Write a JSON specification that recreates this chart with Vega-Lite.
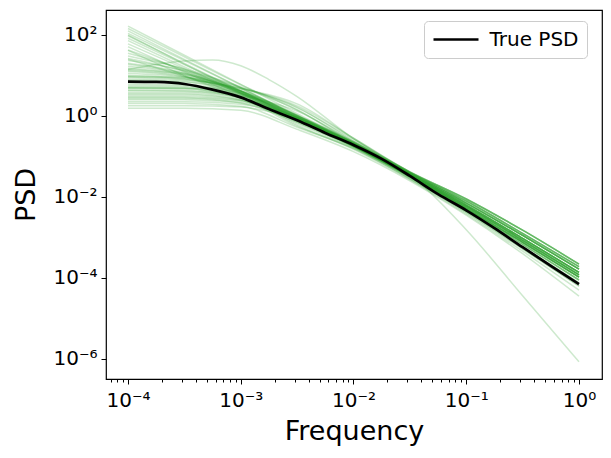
{
"$schema": "https://vega.github.io/schema/vega-lite/v6.json",
"width": 496, "height": 369,
"autosize": {"type": "none"},
"padding": {"left": 106, "top": 10, "right": 9, "bottom": 79},
"background": "white",
"config": {
  "view": {"stroke": "black", "strokeWidth": 1.2},
  "font": "DejaVu Sans",
  "axis": {"grid": false, "domain": false, "tickColor": "black", "labelColor": "black", "titleColor": "black", "labelFont": "DejaVu Sans", "titleFont": "DejaVu Sans", "labelFontSize": 20, "titleFontSize": 27, "titleFontWeight": "normal", "tickWidth": 1, "labelOverlap": false, "labelBound": false, "labelFlush": false}
},
"datasets": {
"samples": [
{"s":1,"f":1e-4,"p":166},{"s":1,"f":3.162e-4,"p":31.6},{"s":1,"f":1e-3,"p":6.03},{"s":1,"f":3.162e-3,"p":1.148},{"s":1,"f":1e-2,"p":0.219},{"s":1,"f":3.162e-2,"p":0.038},{"s":1,"f":0.1,"p":0.00708},{"s":1,"f":0.3162,"p":0.00112},{"s":1,"f":1,"p":1.66e-4},
{"s":2,"f":1e-4,"p":144.5},{"s":2,"f":3.162e-4,"p":28.8},{"s":2,"f":1e-3,"p":5.89},{"s":2,"f":3.162e-3,"p":1.41},{"s":2,"f":1e-2,"p":0.234},{"s":2,"f":3.162e-2,"p":0.0417},{"s":2,"f":0.1,"p":0.00891},{"s":2,"f":0.3162,"p":0.00151},{"s":2,"f":1,"p":2.19e-4},
{"s":3,"f":1e-4,"p":125.9},{"s":3,"f":3.162e-4,"p":25.1},{"s":3,"f":1e-3,"p":4.9},{"s":3,"f":3.162e-3,"p":0.977},{"s":3,"f":1e-2,"p":0.195},{"s":3,"f":3.162e-2,"p":0.0347},{"s":3,"f":0.1,"p":0.00575},{"s":3,"f":0.3162,"p":8.51e-4},{"s":3,"f":1,"p":1.2e-4},
{"s":4,"f":1e-4,"p":109.6},{"s":4,"f":3.162e-4,"p":23.4},{"s":4,"f":1e-3,"p":5.01},{"s":4,"f":3.162e-3,"p":1.047},{"s":4,"f":1e-2,"p":0.224},{"s":4,"f":3.162e-2,"p":0.0398},{"s":4,"f":0.1,"p":0.00794},{"s":4,"f":0.3162,"p":0.00126},{"s":4,"f":1,"p":1.91e-4},
{"s":5,"f":1e-4,"p":95.5},{"s":5,"f":3.162e-4,"p":19.95},{"s":5,"f":1e-3,"p":4.17},{"s":5,"f":3.162e-3,"p":0.851},{"s":5,"f":1e-2,"p":0.178},{"s":5,"f":3.162e-2,"p":0.0316},{"s":5,"f":0.1,"p":0.0049},{"s":5,"f":0.3162,"p":6.76e-4},{"s":5,"f":1,"p":8.91e-5},
{"s":6,"f":1e-4,"p":83.2},{"s":6,"f":3.162e-4,"p":18.6},{"s":6,"f":1e-3,"p":4.17},{"s":6,"f":3.162e-3,"p":0.912},{"s":6,"f":1e-2,"p":0.204},{"s":6,"f":3.162e-2,"p":0.0363},{"s":6,"f":0.1,"p":0.00631},{"s":6,"f":0.3162,"p":9.55e-4},{"s":6,"f":1,"p":1.38e-4},
{"s":7,"f":1e-4,"p":72.4},{"s":7,"f":3.162e-4,"p":16.2},{"s":7,"f":1e-3,"p":3.72},{"s":7,"f":3.162e-3,"p":0.832},{"s":7,"f":1e-2,"p":0.186},{"s":7,"f":3.162e-2,"p":0.0331},{"s":7,"f":0.1,"p":0.00525},{"s":7,"f":0.3162,"p":7.59e-4},{"s":7,"f":1,"p":1.05e-4},
{"s":8,"f":1e-4,"p":60.3},{"s":8,"f":3.162e-4,"p":14.8},{"s":8,"f":1e-3,"p":3.72},{"s":8,"f":3.162e-3,"p":0.912},{"s":8,"f":1e-2,"p":0.224},{"s":8,"f":3.162e-2,"p":0.0398},{"s":8,"f":0.1,"p":0.00794},{"s":8,"f":0.3162,"p":0.00126},{"s":8,"f":1,"p":1.91e-4},
{"s":9,"f":1e-4,"p":51.3},{"s":9,"f":3.162e-4,"p":12.3},{"s":9,"f":1e-3,"p":2.95},{"s":9,"f":3.162e-3,"p":0.661},{"s":9,"f":1e-2,"p":0.17},{"s":9,"f":3.162e-2,"p":0.0302},{"s":9,"f":0.1,"p":0.00447},{"s":9,"f":0.3162,"p":5.89e-4},{"s":9,"f":1,"p":7.59e-5},
{"s":10,"f":1e-4,"p":42.7},{"s":10,"f":3.162e-4,"p":13.2},{"s":10,"f":1e-3,"p":3.55},{"s":10,"f":3.162e-3,"p":0.871},{"s":10,"f":1e-2,"p":0.214},{"s":10,"f":3.162e-2,"p":0.038},{"s":10,"f":0.1,"p":0.00708},{"s":10,"f":0.3162,"p":0.00112},{"s":10,"f":1,"p":1.66e-4},
{"s":11,"f":1e-4,"p":35.5},{"s":11,"f":3.162e-4,"p":14.1},{"s":11,"f":1e-3,"p":4.17},{"s":11,"f":3.162e-3,"p":0.933},{"s":11,"f":1e-2,"p":0.195},{"s":11,"f":3.162e-2,"p":0.0347},{"s":11,"f":0.1,"p":0.00575},{"s":11,"f":0.3162,"p":8.51e-4},{"s":11,"f":1,"p":1.2e-4},
{"s":12,"f":1e-4,"p":30.2},{"s":12,"f":3.162e-4,"p":14.5},{"s":12,"f":1e-3,"p":5.25},{"s":12,"f":3.162e-3,"p":1.585},{"s":12,"f":1e-2,"p":0.263},{"s":12,"f":3.162e-2,"p":0.0417},{"s":12,"f":0.1,"p":0.00891},{"s":12,"f":0.3162,"p":0.00151},{"s":12,"f":1,"p":2.19e-4},
{"s":13,"f":1e-4,"p":26.3},{"s":13,"f":3.162e-4,"p":12.6},{"s":13,"f":1e-3,"p":3.98},{"s":13,"f":3.162e-3,"p":0.891},{"s":13,"f":1e-2,"p":0.186},{"s":13,"f":3.162e-2,"p":0.0331},{"s":13,"f":0.1,"p":0.00525},{"s":13,"f":0.3162,"p":7.59e-4},{"s":13,"f":1,"p":1.05e-4},
{"s":14,"f":1e-4,"p":23.4},{"s":14,"f":3.162e-4,"p":13.2},{"s":14,"f":1e-3,"p":5.01},{"s":14,"f":3.162e-3,"p":1.41},{"s":14,"f":1e-2,"p":0.204},{"s":14,"f":3.162e-2,"p":0.0363},{"s":14,"f":0.1,"p":0.00631},{"s":14,"f":0.3162,"p":9.55e-4},{"s":14,"f":1,"p":1.38e-4},
{"s":15,"f":1e-4,"p":19.95},{"s":15,"f":3.162e-4,"p":11.5},{"s":15,"f":1e-3,"p":3.55},{"s":15,"f":3.162e-3,"p":0.603},{"s":15,"f":1e-2,"p":0.158},{"s":15,"f":3.162e-2,"p":0.0282},{"s":15,"f":0.1,"p":0.00417},{"s":15,"f":0.3162,"p":5.25e-4},{"s":15,"f":1,"p":6.31e-5},
{"s":16,"f":1e-4,"p":17.0},{"s":16,"f":3.162e-4,"p":11.2},{"s":16,"f":1e-3,"p":5.01},{"s":16,"f":3.162e-3,"p":1.66},{"s":16,"f":1e-2,"p":0.24},{"s":16,"f":3.162e-2,"p":0.0398},{"s":16,"f":0.1,"p":0.00794},{"s":16,"f":0.3162,"p":0.00126},{"s":16,"f":1,"p":1.91e-4},
{"s":17,"f":1e-4,"p":15.1},{"s":17,"f":3.162e-4,"p":10.5},{"s":17,"f":1e-3,"p":4.17},{"s":17,"f":3.162e-3,"p":1.0},{"s":17,"f":1e-2,"p":0.214},{"s":17,"f":3.162e-2,"p":0.038},{"s":17,"f":0.1,"p":0.00708},{"s":17,"f":0.3162,"p":0.00112},{"s":17,"f":1,"p":1.66e-4},
{"s":18,"f":1e-4,"p":13.2},{"s":18,"f":3.162e-4,"p":9.77},{"s":18,"f":1e-3,"p":3.8},{"s":18,"f":3.162e-3,"p":0.912},{"s":18,"f":1e-2,"p":0.195},{"s":18,"f":3.162e-2,"p":0.0347},{"s":18,"f":0.1,"p":0.00575},{"s":18,"f":0.3162,"p":8.51e-4},{"s":18,"f":1,"p":1.2e-4},
{"s":19,"f":1e-4,"p":11.2},{"s":19,"f":3.162e-4,"p":9.12},{"s":19,"f":1e-3,"p":4.17},{"s":19,"f":3.162e-3,"p":1.023},{"s":19,"f":1e-2,"p":0.204},{"s":19,"f":3.162e-2,"p":0.0363},{"s":19,"f":0.1,"p":0.00631},{"s":19,"f":0.3162,"p":9.55e-4},{"s":19,"f":1,"p":1.38e-4},
{"s":20,"f":1e-4,"p":9.33},{"s":20,"f":3.162e-4,"p":8.32},{"s":20,"f":1e-3,"p":4.17},{"s":20,"f":3.162e-3,"p":1.047},{"s":20,"f":1e-2,"p":0.178},{"s":20,"f":3.162e-2,"p":0.0316},{"s":20,"f":0.1,"p":0.0049},{"s":20,"f":0.3162,"p":6.76e-4},{"s":20,"f":1,"p":8.91e-5},
{"s":21,"f":1e-4,"p":8.13},{"s":21,"f":3.162e-4,"p":7.59},{"s":21,"f":1e-3,"p":4.79},{"s":21,"f":3.162e-3,"p":1.778},{"s":21,"f":1e-2,"p":0.282},{"s":21,"f":3.162e-2,"p":0.0417},{"s":21,"f":0.1,"p":0.00891},{"s":21,"f":0.3162,"p":0.00151},{"s":21,"f":1,"p":2.19e-4},
{"s":22,"f":1e-4,"p":7.24},{"s":22,"f":3.162e-4,"p":6.76},{"s":22,"f":1e-3,"p":3.63},{"s":22,"f":3.162e-3,"p":0.955},{"s":22,"f":1e-2,"p":0.186},{"s":22,"f":3.162e-2,"p":0.0331},{"s":22,"f":0.1,"p":0.00525},{"s":22,"f":0.3162,"p":7.59e-4},{"s":22,"f":1,"p":1.05e-4},
{"s":23,"f":1e-4,"p":6.17},{"s":23,"f":3.162e-4,"p":5.89},{"s":23,"f":1e-3,"p":3.55},{"s":23,"f":3.162e-3,"p":1.047},{"s":23,"f":1e-2,"p":0.214},{"s":23,"f":3.162e-2,"p":0.038},{"s":23,"f":0.1,"p":0.00708},{"s":23,"f":0.3162,"p":0.00112},{"s":23,"f":1,"p":1.66e-4},
{"s":24,"f":1e-4,"p":5.25},{"s":24,"f":3.162e-4,"p":5.13},{"s":24,"f":1e-3,"p":3.16},{"s":24,"f":3.162e-3,"p":0.708},{"s":24,"f":1e-2,"p":0.17},{"s":24,"f":3.162e-2,"p":0.0302},{"s":24,"f":0.1,"p":0.00447},{"s":24,"f":0.3162,"p":5.89e-4},{"s":24,"f":1,"p":7.59e-5},
{"s":25,"f":1e-4,"p":4.79},{"s":25,"f":3.162e-4,"p":4.68},{"s":25,"f":1e-3,"p":3.16},{"s":25,"f":3.162e-3,"p":1.318},{"s":25,"f":1e-2,"p":0.224},{"s":25,"f":3.162e-2,"p":0.0398},{"s":25,"f":0.1,"p":0.00794},{"s":25,"f":0.3162,"p":0.00126},{"s":25,"f":1,"p":1.91e-4},
{"s":26,"f":1e-4,"p":4.37},{"s":26,"f":3.162e-4,"p":4.27},{"s":26,"f":1e-3,"p":2.88},{"s":26,"f":3.162e-3,"p":0.891},{"s":26,"f":1e-2,"p":0.195},{"s":26,"f":3.162e-2,"p":0.0347},{"s":26,"f":0.1,"p":0.00575},{"s":26,"f":0.3162,"p":8.51e-4},{"s":26,"f":1,"p":1.2e-4},
{"s":27,"f":1e-4,"p":3.8},{"s":27,"f":3.162e-4,"p":3.8},{"s":27,"f":1e-3,"p":2.75},{"s":27,"f":3.162e-3,"p":0.933},{"s":27,"f":1e-2,"p":0.204},{"s":27,"f":3.162e-2,"p":0.0363},{"s":27,"f":0.1,"p":0.00631},{"s":27,"f":0.3162,"p":9.55e-4},{"s":27,"f":1,"p":1.38e-4},
{"s":28,"f":1e-4,"p":3.55},{"s":28,"f":3.162e-4,"p":3.55},{"s":28,"f":1e-3,"p":2.51},{"s":28,"f":3.162e-3,"p":0.562},{"s":28,"f":1e-2,"p":0.151},{"s":28,"f":3.162e-2,"p":0.0269},{"s":28,"f":0.1,"p":0.0038},{"s":28,"f":0.3162,"p":4.57e-4},{"s":28,"f":1,"p":5.01e-5},
{"s":29,"f":1e-4,"p":3.31},{"s":29,"f":3.162e-4,"p":3.31},{"s":29,"f":1e-3,"p":2.51},{"s":29,"f":3.162e-3,"p":0.871},{"s":29,"f":1e-2,"p":0.186},{"s":29,"f":3.162e-2,"p":0.0331},{"s":29,"f":0.1,"p":0.00525},{"s":29,"f":0.3162,"p":7.59e-4},{"s":29,"f":1,"p":1.05e-4},
{"s":30,"f":1e-4,"p":2.88},{"s":30,"f":3.162e-4,"p":2.88},{"s":30,"f":1e-3,"p":2.34},{"s":30,"f":3.162e-3,"p":0.912},{"s":30,"f":1e-2,"p":0.214},{"s":30,"f":3.162e-2,"p":0.038},{"s":30,"f":0.1,"p":0.00708},{"s":30,"f":0.3162,"p":0.00112},{"s":30,"f":1,"p":1.66e-4},
{"s":31,"f":1e-4,"p":2.69},{"s":31,"f":3.162e-4,"p":2.69},{"s":31,"f":1e-3,"p":2.09},{"s":31,"f":3.162e-3,"p":0.708},{"s":31,"f":1e-2,"p":0.178},{"s":31,"f":3.162e-2,"p":0.0316},{"s":31,"f":0.1,"p":0.0049},{"s":31,"f":0.3162,"p":6.76e-4},{"s":31,"f":1,"p":8.91e-5},
{"s":32,"f":1e-4,"p":2.51},{"s":32,"f":3.162e-4,"p":2.51},{"s":32,"f":1e-3,"p":2.14},{"s":32,"f":3.162e-3,"p":0.955},{"s":32,"f":1e-2,"p":0.234},{"s":32,"f":3.162e-2,"p":0.0417},{"s":32,"f":0.1,"p":0.00891},{"s":32,"f":0.3162,"p":0.00151},{"s":32,"f":1,"p":2.19e-4},
{"s":33,"f":1e-4,"p":2.24},{"s":33,"f":3.162e-4,"p":2.24},{"s":33,"f":1e-3,"p":1.95},{"s":33,"f":3.162e-3,"p":0.871},{"s":33,"f":1e-2,"p":0.204},{"s":33,"f":3.162e-2,"p":0.0363},{"s":33,"f":0.1,"p":0.00631},{"s":33,"f":0.3162,"p":9.55e-4},{"s":33,"f":1,"p":1.38e-4},
{"s":34,"f":1e-4,"p":2.04},{"s":34,"f":3.162e-4,"p":2.04},{"s":34,"f":1e-3,"p":1.74},{"s":34,"f":3.162e-3,"p":0.525},{"s":34,"f":1e-2,"p":0.158},{"s":34,"f":3.162e-2,"p":0.0282},{"s":34,"f":0.1,"p":0.00417},{"s":34,"f":0.3162,"p":5.25e-4},{"s":34,"f":1,"p":6.31e-5},
{"s":35,"f":1e-4,"p":1.78},{"s":35,"f":3.162e-4,"p":1.78},{"s":35,"f":1e-3,"p":1.66},{"s":35,"f":3.162e-3,"p":0.794},{"s":35,"f":1e-2,"p":0.195},{"s":35,"f":3.162e-2,"p":0.0347},{"s":35,"f":0.1,"p":0.00575},{"s":35,"f":0.3162,"p":8.51e-4},{"s":35,"f":1,"p":1.2e-4},
{"s":36,"f":1e-4,"p":1.55},{"s":36,"f":3.162e-4,"p":1.55},{"s":36,"f":1e-3,"p":1.38},{"s":36,"f":3.162e-3,"p":0.468},{"s":36,"f":1e-2,"p":0.132},{"s":36,"f":3.162e-2,"p":0.0251},{"s":36,"f":0.1,"p":0.00355},{"s":36,"f":0.3162,"p":3.98e-4},{"s":36,"f":1,"p":3.55e-5},
{"s":37,"f":1e-4,"p":10.0},{"s":37,"f":3.162e-4,"p":8.51},{"s":37,"f":1e-3,"p":3.98},{"s":37,"f":3.162e-3,"p":1.0},{"s":37,"f":1e-2,"p":0.214},{"s":37,"f":3.162e-2,"p":0.038},{"s":37,"f":0.1,"p":0.00708},{"s":37,"f":0.3162,"p":0.00112},{"s":37,"f":1,"p":1.66e-4},
{"s":38,"f":1e-4,"p":14.1},{"s":38,"f":3.162e-4,"p":10.5},{"s":38,"f":1e-3,"p":4.17},{"s":38,"f":3.162e-3,"p":0.891},{"s":38,"f":1e-2,"p":0.186},{"s":38,"f":3.162e-2,"p":0.0331},{"s":38,"f":0.1,"p":0.00525},{"s":38,"f":0.3162,"p":7.59e-4},{"s":38,"f":1,"p":1.05e-4},
{"s":39,"f":1e-4,"p":8.91},{"s":39,"f":3.162e-4,"p":7.94},{"s":39,"f":1e-3,"p":4.79},{"s":39,"f":3.162e-3,"p":1.995},{"s":39,"f":1e-2,"p":0.282},{"s":39,"f":3.162e-2,"p":0.0398},{"s":39,"f":0.1,"p":0.00794},{"s":39,"f":0.3162,"p":0.00126},{"s":39,"f":1,"p":1.91e-4},
{"s":40,"f":1e-4,"p":5.62},{"s":40,"f":3.162e-4,"p":5.5},{"s":40,"f":1e-3,"p":3.55},{"s":40,"f":3.162e-3,"p":1.0},{"s":40,"f":1e-2,"p":0.204},{"s":40,"f":3.162e-2,"p":0.0363},{"s":40,"f":0.1,"p":0.00631},{"s":40,"f":0.3162,"p":9.55e-4},{"s":40,"f":1,"p":1.38e-4},
{"s":41,"f":1e-4,"p":14.1},{"s":41,"f":3.162e-4,"p":22.9},{"s":41,"f":5.623e-4,"p":24.0},{"s":41,"f":1e-3,"p":17.4},{"s":41,"f":1.778e-3,"p":7.94},{"s":41,"f":3.162e-3,"p":3.02},{"s":41,"f":1e-2,"p":0.275},{"s":41,"f":3.162e-2,"p":0.0417},{"s":41,"f":0.1,"p":0.00891},{"s":41,"f":0.3162,"p":0.00151},{"s":41,"f":1,"p":2.19e-4},
{"s":42,"f":1e-4,"p":5.01},{"s":42,"f":3.162e-4,"p":4.79},{"s":42,"f":1e-3,"p":2.82},{"s":42,"f":3.162e-3,"p":0.794},{"s":42,"f":1e-2,"p":0.191},{"s":42,"f":3.162e-2,"p":0.0355},{"s":42,"f":0.1,"p":0.00155},{"s":42,"f":0.3162,"p":3.63e-5},{"s":42,"f":1,"p":8.51e-7},
{"s":43,"f":1e-4,"p":19.05},{"s":43,"f":3.162e-4,"p":11.2},{"s":43,"f":1e-3,"p":3.98},{"s":43,"f":3.162e-3,"p":0.832},{"s":43,"f":1e-2,"p":0.191},{"s":43,"f":3.162e-2,"p":0.0347},{"s":43,"f":0.1,"p":0.00575},{"s":43,"f":0.3162,"p":8.51e-4},{"s":43,"f":1,"p":1.2e-4},
{"s":44,"f":1e-4,"p":7.59},{"s":44,"f":3.162e-4,"p":7.08},{"s":44,"f":1e-3,"p":3.8},{"s":44,"f":3.162e-3,"p":0.794},{"s":44,"f":1e-2,"p":0.182},{"s":44,"f":3.162e-2,"p":0.0331},{"s":44,"f":0.1,"p":0.00525},{"s":44,"f":0.3162,"p":7.59e-4},{"s":44,"f":1,"p":1.05e-4},
{"s":45,"f":1e-4,"p":41.7},{"s":45,"f":3.162e-4,"p":10.0},{"s":45,"f":1e-3,"p":2.82},{"s":45,"f":3.162e-3,"p":0.759},{"s":45,"f":1e-2,"p":0.191},{"s":45,"f":3.162e-2,"p":0.0363},{"s":45,"f":0.1,"p":0.00631},{"s":45,"f":0.3162,"p":9.55e-4},{"s":45,"f":1,"p":1.38e-4},
{"s":46,"f":1e-4,"p":4.17},{"s":46,"f":3.162e-4,"p":4.07},{"s":46,"f":1e-3,"p":2.82},{"s":46,"f":3.162e-3,"p":0.832},{"s":46,"f":1e-2,"p":0.2},{"s":46,"f":3.162e-2,"p":0.038},{"s":46,"f":0.1,"p":0.00708},{"s":46,"f":0.3162,"p":0.00112},{"s":46,"f":1,"p":1.66e-4},
{"s":47,"f":1e-4,"p":25.1},{"s":47,"f":3.162e-4,"p":9.55},{"s":47,"f":1e-3,"p":3.31},{"s":47,"f":3.162e-3,"p":0.794},{"s":47,"f":1e-2,"p":0.186},{"s":47,"f":3.162e-2,"p":0.0347},{"s":47,"f":0.1,"p":0.00575},{"s":47,"f":0.3162,"p":8.51e-4},{"s":47,"f":1,"p":1.2e-4},
{"s":48,"f":1e-4,"p":9.55},{"s":48,"f":3.162e-4,"p":8.91},{"s":48,"f":1e-3,"p":4.57},{"s":48,"f":3.162e-3,"p":0.955},{"s":48,"f":1e-2,"p":0.2},{"s":48,"f":3.162e-2,"p":0.0363},{"s":48,"f":0.1,"p":0.00631},{"s":48,"f":0.3162,"p":9.55e-4},{"s":48,"f":1,"p":1.38e-4},
{"s":49,"f":1e-4,"p":100},{"s":49,"f":3.162e-4,"p":19.05},{"s":49,"f":1e-3,"p":3.8},{"s":49,"f":3.162e-3,"p":0.794},{"s":49,"f":1e-2,"p":0.178},{"s":49,"f":3.162e-2,"p":0.0331},{"s":49,"f":0.1,"p":0.00525},{"s":49,"f":0.3162,"p":7.59e-4},{"s":49,"f":1,"p":1.05e-4},
{"s":50,"f":1e-4,"p":5.01},{"s":50,"f":3.162e-4,"p":4.9},{"s":50,"f":1e-3,"p":3.31},{"s":50,"f":3.162e-3,"p":0.891},{"s":50,"f":1e-2,"p":0.191},{"s":50,"f":3.162e-2,"p":0.0347},{"s":50,"f":0.1,"p":0.00575},{"s":50,"f":0.3162,"p":8.51e-4},{"s":50,"f":1,"p":1.2e-4},
{"s":51,"f":1e-4,"p":12.6},{"s":51,"f":3.162e-4,"p":9.33},{"s":51,"f":1e-3,"p":3.55},{"s":51,"f":3.162e-3,"p":0.759},{"s":51,"f":1e-2,"p":0.174},{"s":51,"f":3.162e-2,"p":0.0316},{"s":51,"f":0.1,"p":0.0049},{"s":51,"f":0.3162,"p":6.76e-4},{"s":51,"f":1,"p":8.91e-5},
{"s":52,"f":1e-4,"p":3.02},{"s":52,"f":3.162e-4,"p":3.02},{"s":52,"f":1e-3,"p":2.4},{"s":52,"f":3.162e-3,"p":0.759},{"s":52,"f":1e-2,"p":0.182},{"s":52,"f":3.162e-2,"p":0.0331},{"s":52,"f":0.1,"p":0.00525},{"s":52,"f":0.3162,"p":7.59e-4},{"s":52,"f":1,"p":1.05e-4}
],
"truth": [
{"name":"True PSD","f":1e-4,"p":7.08},{"name":"True PSD","f":1.778e-4,"p":6.92},{"name":"True PSD","f":3.162e-4,"p":6.17},{"name":"True PSD","f":5.623e-4,"p":4.47},{"name":"True PSD","f":1e-3,"p":2.88},{"name":"True PSD","f":1.778e-3,"p":1.48},{"name":"True PSD","f":3.162e-3,"p":0.785},{"name":"True PSD","f":5.623e-3,"p":0.38},{"name":"True PSD","f":1e-2,"p":0.192},{"name":"True PSD","f":1.778e-2,"p":0.0871},{"name":"True PSD","f":3.162e-2,"p":0.0331},{"name":"True PSD","f":5.623e-2,"p":0.01175},{"name":"True PSD","f":0.1,"p":0.00468},{"name":"True PSD","f":0.1778,"p":0.0017},{"name":"True PSD","f":0.3162,"p":5.75e-4},{"name":"True PSD","f":0.5623,"p":2.0e-4},{"name":"True PSD","f":1,"p":7.08e-5}
]
},
"layer": [
{
  "data": {"name": "samples"},
  "mark": {"type": "line", "color": "#2ca02c", "opacity": 0.23, "strokeWidth": 1.5, "interpolate": "monotone"},
  "encoding": {
    "x": {"field": "f", "type": "quantitative",
      "scale": {"type": "log", "domain": [6.38e-5, 1.6], "nice": false},
      "axis": {"title": "Frequency",
        "values": [7e-5,8e-5,9e-5,1e-4,2e-4,3e-4,4e-4,5e-4,6e-4,7e-4,8e-4,9e-4,1e-3,2e-3,3e-3,4e-3,5e-3,6e-3,7e-3,8e-3,9e-3,1e-2,2e-2,3e-2,4e-2,5e-2,6e-2,7e-2,8e-2,9e-2,0.1,0.2,0.3,0.4,0.5,0.6,0.7,0.8,0.9,1],
        "labelExpr": "datum.value == 0.0001 ? '10⁻⁴' : datum.value == 0.001 ? '10⁻³' : datum.value == 0.01 ? '10⁻²' : datum.value == 0.1 ? '10⁻¹' : datum.value == 1 ? '10⁰' : ''",
        "tickSize": {"condition": {"test": "indexof([0.0001, 0.001, 0.01, 0.1, 1], datum.value) >= 0", "value": 5}, "value": 3},
        "labelPadding": 6, "titlePadding": 8}},
    "y": {"field": "p", "type": "quantitative",
      "scale": {"type": "log", "domain": [3.2e-7, 414], "nice": false},
      "axis": {"title": "PSD", "values": [1e-6, 1e-4, 1e-2, 1, 100],
        "labelExpr": "datum.value == 100 ? '10²' : datum.value == 1 ? '10⁰' : datum.value == 0.01 ? '10⁻²' : datum.value == 0.0001 ? '10⁻⁴' : datum.value == 0.000001 ? '10⁻⁶' : ''",
        "tickSize": 5, "labelPadding": 4, "titlePadding": 12}},
    "detail": {"field": "s", "type": "nominal"}
  }
},
{
  "data": {"name": "truth"},
  "mark": {"type": "line", "strokeWidth": 2.7, "interpolate": "monotone"},
  "encoding": {
    "x": {"field": "f", "type": "quantitative"},
    "y": {"field": "p", "type": "quantitative"},
    "color": {"field": "name", "type": "nominal",
      "scale": {"domain": ["True PSD"], "range": ["black"]},
      "legend": {"title": null, "orient": "none", "legendX": 318, "legendY": 11,
        "symbolType": "M-2.5,0H2.5", "symbolSize": 324, "symbolStrokeWidth": 2.7, "symbolOffset": 13.5,
        "labelOffset": 23, "labelFontSize": 20, "labelFont": "DejaVu Sans", "labelColor": "black",
        "padding": 8, "strokeColor": "#cccccc", "fillColor": "white", "cornerRadius": 4}}
  }
}
]
}
